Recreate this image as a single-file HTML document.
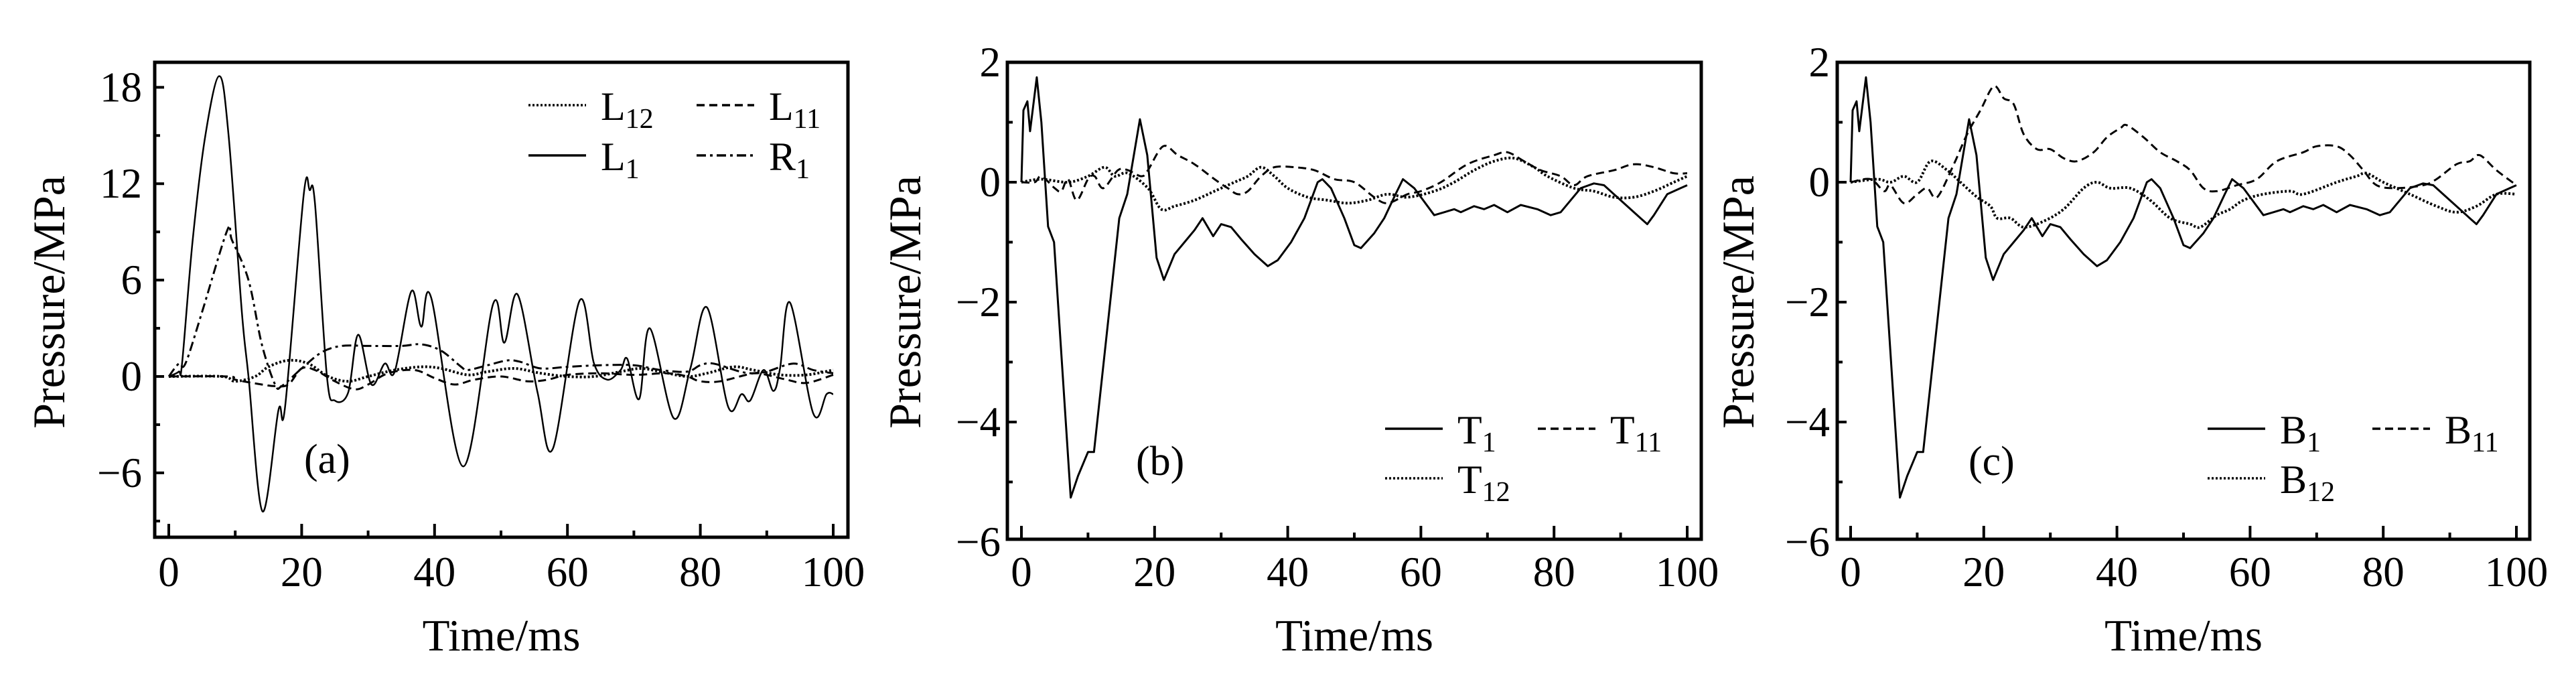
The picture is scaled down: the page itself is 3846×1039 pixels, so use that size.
<!DOCTYPE html>
<html><head><meta charset="utf-8"><style>
html,body{margin:0;padding:0;background:#fff;overflow:hidden}
svg{display:block}
text{font-family:"Liberation Serif",serif;fill:#000}
</style></head><body>
<svg id="chart" width="3846" height="1039" viewBox="0 0 3846 1039" xmlns="http://www.w3.org/2000/svg"></svg>
<script>
// ---- Panel (a) data ----
const aL1T=[0,1.5,2,3.6,5.5,7.6,9,11,12,14.1,16.5,17.5,20.3,21.2,22,23.8,25,27,28.5,30.5,32.5,34,36.5,38,39.5,44.3,48.8,50.5,52.5,55.5,57.8,61.8,64,66,68,69,70.8,72.4,76,78.5,81,84.2,86.2,87.5,89.5,91,92,93.5,97,99,100];
const aL1V=[0,0.3,0.8,8.5,15,18.7,15,4,0,-8.4,-2.1,-1.9,11.3,11.6,10.8,0,-1.5,-1,2.6,-0.5,0.8,0.3,5.3,3.1,4.9,-5.6,4.5,2.1,5.1,-1,-4.5,4.7,0.8,-0.2,0.4,1.1,-1.4,3.0,-2.6,0.5,4.3,-1.9,-1.1,-1.5,0.4,-0.9,0.5,4.6,-2.3,-1.1,-1.1];
const aR1T=[0,1.5,2.5,5,8.8,9.5,12,14,16,17,20,23,26,30,35,38,41,44,45,48,51,53,56,60,65,70,74,78,80,82,86,88,90,94,97,100];
const aR1V=[0,0.8,0.8,4,9.1,8.5,6,2,-0.5,-0.6,0.5,1.5,1.9,1.9,1.9,2.0,1.6,0.6,0.4,0.7,1.0,0.9,0.5,0.6,0.7,0.7,0.4,0.3,0.7,0.8,0.3,0.2,0.3,0.8,0.4,0.2];
const aL11T=[0,9,10,14,16,18,20,22,25,28,30,33,37,40,43,46,50,54,57,60,65,70,75,78,80,83,88,90,93,96,100];
const aL11V=[0,0,-0.2,-0.5,-0.6,-0.5,0.5,0.4,-0.3,-0.8,-0.5,0.2,0.4,-0.1,-0.5,-0.2,0,-0.3,-0.2,0.1,0.2,0.1,0.2,0,-0.3,-0.3,0.2,0.1,-0.2,-0.4,0.1];
const aL12T=[0,8,10,13,15,18,21,24,27,30,34,38,41,45,48,52,56,60,64,68,71,74,78,81,85,88,92,96,100];
const aL12V=[0,0,-0.3,0,0.6,1.0,0.8,0,-0.3,0,0.4,0.6,0.5,0.1,0.3,0.5,0.2,0,0,0.3,0.5,0.3,0,0.2,0.6,0.4,0.1,0.1,0.4];
// ---- Panel (b)/(c) shared solid series ----
const s1T=[0,0.3,0.9,1.3,2.3,3,4,4.9,7.4,8.5,10,10.9,14.7,15.9,17.8,18.9,20.3,21.4,23,24.5,26,27.2,28.8,30,31.5,33,35,37,38.5,40.5,42.5,44.5,45.2,46.5,48.5,50,51,53,54.5,56.2,57.3,59,62,63.5,65,66,68,69.5,71,73,75,77.5,79.5,81,84,86,87.5,90,93,94,95,97,99,100];
const s1V=[0,1.2,1.35,0.85,1.75,1,-0.74,-1.0,-5.26,-4.9,-4.5,-4.5,-0.6,-0.2,1.05,0.45,-1.26,-1.63,-1.2,-1,-0.8,-0.6,-0.9,-0.7,-0.75,-0.95,-1.2,-1.4,-1.3,-1.0,-0.6,0,0.05,-0.1,-0.6,-1.05,-1.1,-0.85,-0.6,-0.2,0.05,-0.1,-0.55,-0.5,-0.45,-0.5,-0.4,-0.45,-0.38,-0.5,-0.38,-0.45,-0.55,-0.5,-0.1,-0.02,-0.05,-0.3,-0.6,-0.7,-0.55,-0.2,-0.1,-0.05];
const bT11T=[0,2,3,5,6,7,8.3,10,11,12.3,14.5,16,18,19,21.3,23.5,26,29,31,32.5,34,36,38,41,44,47,50,53,55,58,60,63,67,71,73,75.5,78,81,83,85,89,92,95,98,100];
const bT11V=[0,0,0.1,-0.1,-0.15,0.05,-0.3,0.05,0.1,-0.1,0.2,0.2,0.1,0.2,0.6,0.45,0.3,0.05,-0.1,-0.2,-0.15,0.1,0.25,0.25,0.2,0.05,0,-0.25,-0.35,-0.2,-0.15,0,0.3,0.45,0.5,0.35,0.2,0.1,-0.05,0.1,0.2,0.3,0.25,0.15,0.15];
const bT12T=[0,3,7,10,12.5,14,16,19,21,23,26,29,32,34,36,38,40,43,46,49,52,55,58,62,65,68,71,74,77,79,83,86,89,92,95,98,100];
const bT12V=[0,0.05,0,0.1,0.25,0.1,0.15,-0.1,-0.45,-0.4,-0.3,-0.15,0,0.1,0.25,0.1,-0.1,-0.25,-0.3,-0.35,-0.3,-0.2,-0.25,-0.15,0,0.2,0.35,0.4,0.25,0.1,-0.1,-0.15,-0.25,-0.25,-0.15,0,0.1];
const cB11T=[0,3,5,6,8,10,11.5,13,15.5,17.5,19.5,21.5,23,24.5,26,28,30,32,34,36.5,38.5,40.5,41.5,44,46.5,49,51,53,55,58,61,64,68,70,73,75,77,79,82,86,88,91,93,94.5,97,100];
const cB11V=[0,0.05,-0.15,-0.05,-0.35,-0.2,-0.1,-0.25,0.3,0.8,1.2,1.6,1.4,1.3,0.8,0.55,0.55,0.4,0.35,0.5,0.75,0.9,0.95,0.75,0.5,0.35,0.2,-0.1,-0.15,-0.05,0.05,0.35,0.5,0.6,0.6,0.45,0.2,-0.05,-0.1,-0.05,0.05,0.3,0.35,0.45,0.2,-0.05];
const cB12T=[0,4,6,8,10,12,14.5,16.5,19,21,22,24,26,29,32,35,37,39,42,45,48,51,52.5,55,57,59,62,66,68,73,76,77.5,80,84,88,91,94,97,100];
const cB12V=[0,0.05,0,0.1,0,0.35,0.2,0,-0.25,-0.4,-0.6,-0.6,-0.75,-0.65,-0.45,-0.1,0,-0.1,-0.1,-0.3,-0.6,-0.7,-0.75,-0.55,-0.45,-0.3,-0.2,-0.15,-0.2,0,0.1,0.15,0,-0.2,-0.4,-0.5,-0.4,-0.2,-0.2];
const xTicks=[0,20,40,60,80,100];
const aYTicks=[-6,0,6,12,18];
const bYTicks=[-6,-4,-2,0,2];

const NS='http://www.w3.org/2000/svg';
const svg=document.getElementById('chart');
function mk(tag,attrs,parent){const e=document.createElementNS(NS,tag);for(const k in attrs)e.setAttribute(k,attrs[k]);(parent||svg).appendChild(e);return e;}
const DASH={solid:'none',dash:'12 7',dot:'3 3',dashdot:'14 6 4 6'};

function smoothPath(pts){
  let d='M'+pts[0][0].toFixed(1)+' '+pts[0][1].toFixed(1);
  for(let i=0;i<pts.length-1;i++){
    const p0=pts[Math.max(0,i-1)],p1=pts[i],p2=pts[i+1],p3=pts[Math.min(pts.length-1,i+2)];
    const c1x=p1[0]+(p2[0]-p0[0])/6,c1y=p1[1]+(p2[1]-p0[1])/6;
    const c2x=p2[0]-(p3[0]-p1[0])/6,c2y=p2[1]-(p3[1]-p1[1])/6;
    d+='C'+c1x.toFixed(1)+' '+c1y.toFixed(1)+' '+c2x.toFixed(1)+' '+c2y.toFixed(1)+' '+p2[0].toFixed(1)+' '+p2[1].toFixed(1);
  }
  return d;
}

function panel(p){
  const g=mk('g',{});
  
  
  const sx=t=>p.x0+t/100*(p.x1-p.x0);
  const sy=v=>p.yz-v*p.ppu;
  p.series.forEach(s=>{
    const pts=s.t.map((t,i)=>[sx(t),sy(s.v[i])]);
    const d=s.smooth?smoothPath(pts):pts.map((q,i)=>(i?'L':'M')+q[0].toFixed(1)+' '+q[1].toFixed(1)).join('');
    const path=mk('path',{d:d,fill:'none',stroke:'#000','stroke-width':s.w||3,'stroke-dasharray':DASH[s.style],'stroke-linejoin':'round'},g);
    
    
  });
  const fr=mk('rect',{x:p.L,y:p.T,width:p.R-p.L,height:p.B-p.T,fill:'none',stroke:'#000','stroke-width':5},g);
  
  
  for(let t=0;t<=100;t+=10){
    const maj=t%20===0;
    mk('line',{x1:sx(t),x2:sx(t),y1:p.B,y2:p.B-(maj?20:10),stroke:'#000','stroke-width':4},g);
  }
  xTicks.forEach(t=>{
    const tx=mk('text',{x:sx(t),y:875,'font-size':63,'text-anchor':'middle'},g);
    tx.textContent=t;
    
    
  });
  const step=p.yt[1]-p.yt[0];
  for(let v=p.yt[0]-step;v<=p.yt[p.yt.length-1]+0.001;v+=step/2){
    const y=sy(v); if(y<p.T-1||y>p.B+1)continue;
    const maj=p.yt.some(q=>Math.abs(q-v)<1e-6);
    mk('line',{x1:p.L,x2:p.L+(maj?14:8),y1:y,y2:y,stroke:'#000','stroke-width':4},g);
  }
  p.yt.forEach(v=>{
    const tx=mk('text',{x:p.ylx,y:sy(v)+21,'font-size':63,'text-anchor':'end'},g);
    tx.textContent=v<0?'\u2212'+Math.abs(v):v;
    
    
  });
  const xt=mk('text',{x:(p.L+p.R)/2,y:971,'font-size':67,'text-anchor':'middle'},g);
  xt.textContent='Time/ms';
  
  
  const yt=mk('text',{x:0,y:0,'font-size':68,'text-anchor':'middle',transform:`translate(${p.ytx},451) rotate(-90)`},g);
  yt.textContent='Pressure/MPa';
  
  
  const lab=mk('text',{x:p.lab[0],y:p.lab[1],'font-size':62},g);
  lab.textContent=p.label;
  
  
  p.legend.forEach(l=>{
    const lg=mk('g',{},g);
    
    
    mk('line',{x1:l.x,x2:l.x+86,y1:l.y,y2:l.y,stroke:'#000','stroke-width':3.5,'stroke-dasharray':DASH[l.style]},lg);
    const tx=mk('text',{x:l.x+108,y:l.y+22,'font-size':60},lg);
    tx.textContent=l.main;
    const sub=mk('tspan',{'font-size':42,dy:12},tx);
    sub.textContent=l.sub;
  });
}

panel({id:'panel-a',L:231,R:1266,T:93,B:802,x0:252,x1:1244,yz:562,ppu:23.98,yt:aYTicks,ylx:212,ytx:96,label:'(a)',lab:[454,706],
  series:[{name:'L12',t:aL12T,v:aL12V,style:'dot',w:4,smooth:true},{name:'L11',t:aL11T,v:aL11V,style:'dash',smooth:true},{name:'R1',t:aR1T,v:aR1V,style:'dashdot',smooth:true},{name:'L1',t:aL1T,v:aL1V,style:'solid',w:2.5,smooth:true}],
  legend:[{x:789,y:157,style:'dot',main:'L',sub:'12'},{x:1040,y:157,style:'dash',main:'L',sub:'11'},{x:789,y:232,style:'solid',main:'L',sub:'1'},{x:1040,y:232,style:'dashdot',main:'R',sub:'1'}]});
panel({id:'panel-b',L:1504,R:2540,T:93,B:805,x0:1525,x1:2519,yz:272,ppu:89.5,yt:bYTicks,ylx:1494,ytx:1374,label:'(b)',lab:[1696,709],
  series:[{name:'T12',t:bT12T,v:bT12V,style:'dot',w:4,smooth:true},{name:'T11',t:bT11T,v:bT11V,style:'dash',smooth:true},{name:'T1',t:s1T,v:s1V,style:'solid'}],
  legend:[{x:2068,y:640,style:'solid',main:'T',sub:'1'},{x:2296,y:640,style:'dash',main:'T',sub:'11'},{x:2068,y:714,style:'dot',main:'T',sub:'12'}]});
panel({id:'panel-c',L:2743,R:3777,T:93,B:805,x0:2763,x1:3757,yz:272,ppu:89.5,yt:bYTicks,ylx:2732,ytx:2618,label:'(c)',lab:[2939,709],
  series:[{name:'B12',t:cB12T,v:cB12V,style:'dot',w:4,smooth:true},{name:'B11',t:cB11T,v:cB11V,style:'dash',smooth:true},{name:'B1',t:s1T,v:s1V,style:'solid'}],
  legend:[{x:3296,y:640,style:'solid',main:'B',sub:'1'},{x:3542,y:640,style:'dash',main:'B',sub:'11'},{x:3296,y:714,style:'dot',main:'B',sub:'12'}]});
</script>
</body></html>
